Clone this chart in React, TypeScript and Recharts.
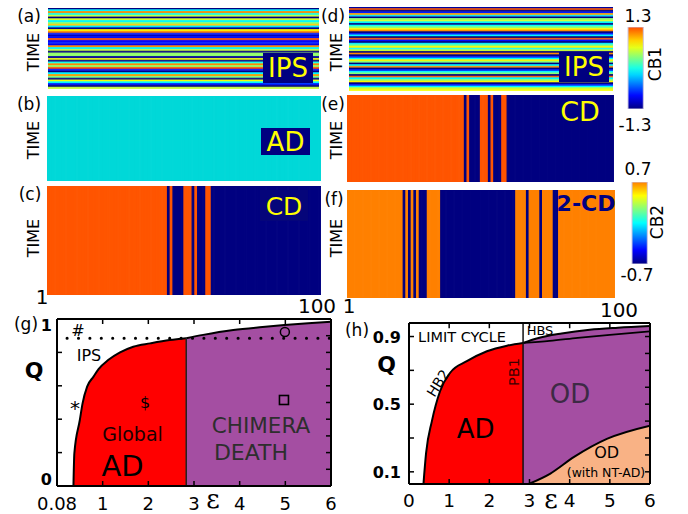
import React from 'react';
import {
  BarChart, Bar, Cell, XAxis, YAxis, ComposedChart, Area, Line,
  ReferenceLine, ReferenceDot,
} from 'recharts';

const FONT = '"DejaVu Sans", sans-serif';
const SERIF = '"DejaVu Serif", serif';

// ---------- space-time data ----------
// (a) IPS rows, values of CB1 (range -1.3..1.3), top to bottom
const ipsRowsA = [
  -1.3, -0.1, 1.1, -0.05, 0.55, -1.3, 0.6, -0.1, 0.35, 0.9, -0.15, -1.25, 0.75, 1.15, -0.8,
  -1.1, -0.85, 1.25, -0.9, -0.8, -0.95, 1.1, -0.1, 0.55, -1.3, 0.4, 0.38, -1.2, 0.7, -1.3,
  0, 1.1, 0.4, 1.3, -0.85, -1.3, -0.1, 1.05, 0.3, -1.3, 0.7, -0.1, -0.8, -1.3, 0.55,
];
// (d) IPS rows
const ipsRowsD = [
  -1.2, 1.25, -1.3, -0.8, 1.0, -0.2, -1.3, 0.35, 0.6, -0.1, -1.3, -0.05, 0.35, 0.75, 1.1,
  -1.3, -0.8, -0.1, -1.3, 1.25, -0.85, -1.3, -0.1, 0.35, 0.75, -0.05, 0.55, -1.3, 1.1, -1.3,
  -0.8, -0.1, 0.75, 0.35, -1.3, -0.1, 1.1, -1.3, -0.8, -0.1, 0.35, -1.3, 1.25, -0.1, 0.35,
  0.75, -1.3, -0.8, -0.1, 0.55, 0.7,
];
// node states along 1..100 (run length: [count, state]); 0 = low, 1 = high, 2 = AD
const adRunsB = [[100, 2]];
const cdRunsC = [[44, 1], [1, 0], [1, 1], [4, 0], [3, 1], [1, 0], [1, 1], [3, 0], [2, 1], [40, 0]];
const cdRunsE = [[44, 1], [1, 0], [1, 1], [4, 0], [3, 1], [1, 0], [1, 1], [3, 0], [2, 1], [40, 0]];
const cdRunsF = [[21, 1], [1, 0], [1, 1], [1, 0], [1, 1], [1, 0], [1, 1], [3, 0], [5, 1], [28, 0],
  [4, 1], [1, 0], [4, 1], [1, 0], [4, 1], [2, 0], [21, 1]];

const cb1Range = [-1.3, 1.3];
const cb2Range = [-0.7, 0.7];
const cb1Labels = ['1.3', '-1.3'];
const cb2Labels = ['0.7', '-0.7'];

// ---------- phase diagram data ----------
const epsTicks = [0, 1, 2, 3, 4, 5, 6];
const epsInnerTicks = [1, 2, 3, 4, 5];
const qTicksG = [0, 0.1, 0.2, 0.3, 0.4, 0.5, 0.6, 0.7, 0.8, 0.9, 1];
const qTicksH = [0.1, 0.2, 0.3, 0.4, 0.5, 0.6, 0.7, 0.8, 0.9];
const gDomainQ = [0, 1];
const hDomainQ = [0.028, 0.98];

const gAD = [
  { e: 0.36, q: 0 }, { e: 0.38, q: 0.196 }, { e: 0.5, q: 0.395 }, { e: 0.56, q: 0.495 },
  { e: 0.66, q: 0.595 }, { e: 0.8, q: 0.655 }, { e: 0.91, q: 0.7 }, { e: 1.12, q: 0.754 },
  { e: 1.38, q: 0.8 }, { e: 1.67, q: 0.834 }, { e: 2.04, q: 0.854 }, { e: 2.47, q: 0.874 },
  { e: 2.83, q: 0.885 },
];
const gCD = [
  { e: 2.83, q: 0.885 }, { e: 3.2, q: 0.905 }, { e: 3.86, q: 0.934 }, { e: 4.5, q: 0.952 },
  { e: 4.98, q: 0.964 }, { e: 5.5, q: 0.975 }, { e: 6, q: 0.984 },
];
const gIPSline = 0.885;
const gPB = 2.83;

const hAD = [
  { e: 0.36, q: 0.028 }, { e: 0.425, q: 0.21 }, { e: 0.57, q: 0.4 }, { e: 0.775, q: 0.578 },
  { e: 1.025, q: 0.686 }, { e: 1.44, q: 0.754 }, { e: 1.94, q: 0.813 }, { e: 2.44, q: 0.846 },
  { e: 2.84, q: 0.862 },
];
const hODtop = [
  { e: 2.84, q: 0.862 }, { e: 3.2, q: 0.89 }, { e: 3.8, q: 0.918 }, { e: 4.5, q: 0.94 },
  { e: 5.2, q: 0.952 }, { e: 6, q: 0.962 },
];
const hODlow = [
  { e: 2.84, q: 0.862 }, { e: 3.5, q: 0.874 }, { e: 4.2, q: 0.892 }, { e: 5, q: 0.91 }, { e: 6, q: 0.93 },
];
const hNT = [
  { e: 2.98, q: 0.028 }, { e: 3.52, q: 0.09 }, { e: 4.11, q: 0.188 }, { e: 4.94, q: 0.296 }, { e: 6, q: 0.373 },
];
const hPB = 2.84;

// ---------- colours ----------
function jet(t: number) {
  const c = (x: number) => Math.round(255 * Math.max(0, Math.min(1, x)));
  return `rgb(${c(1.5 - Math.abs(4 * t - 3))},${c(1.5 - Math.abs(4 * t - 2))},${c(1.5 - Math.abs(4 * t - 1))})`;
}
const cb1Color = (v: number) => jet(((v - cb1Range[0]) / (cb1Range[1] - cb1Range[0])) * 0.8);
const cb2Color = (v: number) => jet(((v - cb2Range[0]) / (cb2Range[1] - cb2Range[0])) * 0.75);
const stateColors1: Record<number, string> = { 0: '#000080', 1: '#ff5500', 2: '#00d8d8' };
const stateColors2: Record<number, string> = { 0: '#000080', 1: '#ff8000', 2: '#00d8d8' };
const RED = '#ff0000';
const PURPLE = '#a44ea2';
const PEACH = '#f9b285';

function expandRuns(runs: number[][]) {
  const out: number[] = [];
  runs.forEach(([n, s]) => { for (let k = 0; k < n; k++) out.push(s); });
  return out;
}

const M0 = { top: 0, right: 0, bottom: 0, left: 0 };

function RowMap({ values, width, height, color }: any) {
  const data = values.map((v: number, i: number) => ({ row: i, v, span: 1 }));
  return (
    <BarChart layout="vertical" width={width} height={height} data={data} margin={M0} barCategoryGap={0} barGap={0}>
      <XAxis type="number" domain={[0, 1]} hide />
      <YAxis type="category" dataKey="row" hide />
      <Bar dataKey="span" barSize={height / values.length} isAnimationActive={false}>
        {data.map((d: any, i: number) => {
          const c = color(d.v);
          return <Cell key={i} fill={c} stroke={c} strokeWidth={0.8} />;
        })}
      </Bar>
    </BarChart>
  );
}

function ColMap({ runs, width, height, colors }: any) {
  const states = expandRuns(runs);
  const data = states.map((s, i) => ({ node: i + 1, s, span: 1 }));
  return (
    <BarChart width={width} height={height} data={data} margin={M0} barCategoryGap={0} barGap={0}>
      <XAxis type="category" dataKey="node" hide />
      <YAxis type="number" domain={[0, 1]} hide />
      <Bar dataKey="span" barSize={width / states.length} isAnimationActive={false}>
        {data.map((d, i) => {
          const c = colors[d.s];
          return <Cell key={i} fill={c} stroke={c} strokeWidth={1.3} />;
        })}
      </Bar>
    </BarChart>
  );
}

function ColorBar({ id, width, height, range, color }: any) {
  const n = 12;
  const stops = Array.from({ length: n + 1 }, (_, k) => {
    const v = range[1] - ((range[1] - range[0]) * k) / n;
    return { off: `${(100 * k) / n}%`, c: color(v) };
  });
  return (
    <BarChart width={width} height={height} data={[{ k: 'cb', span: 1 }]} margin={M0} barCategoryGap={0}>
      <defs>
        <linearGradient id={id} x1="0" y1="0" x2="0" y2="1">
          {stops.map((s, i) => <stop key={i} offset={s.off} stopColor={s.c} />)}
        </linearGradient>
      </defs>
      <XAxis type="category" dataKey="k" hide />
      <YAxis type="number" domain={[0, 1]} hide />
      <Bar dataKey="span" barSize={width} fill={`url(#${id})`} stroke="#cbc4e0" strokeWidth={1} isAnimationActive={false} />
    </BarChart>
  );
}

function Abs({ x, y, children }: any) {
  return <div style={{ position: 'absolute', left: x, top: y }}>{children}</div>;
}

function T({ x, y, size = 16, color = '#000', weight = 400, rot = 0, family = FONT, children }: any) {
  return (
    <div style={{
      position: 'absolute', left: x, top: y, transform: `translate(-50%,-50%) rotate(${rot}deg)`,
      fontSize: size, color, fontWeight: weight, fontFamily: family, whiteSpace: 'nowrap', lineHeight: 1,
    }}>{children}</div>
  );
}

function NavyBox({ x, y, w, h, bg = '#000080' }: any) {
  return <div style={{ position: 'absolute', left: x, top: y, width: w, height: h, background: bg }} />;
}

const AXL = { stroke: '#000', strokeWidth: 2 };
const TICK = 5;

// bottom axis tick: inward line + label below
const bottomTick = (fmt: (v: number) => string, off: number, size: number) => (p: any) => (
  <g>
    <line x1={p.x} y1={p.y} x2={p.x} y2={p.y - TICK} stroke="#000" strokeWidth={1.5} />
    <text x={p.x} y={p.y + off} textAnchor="middle" fontSize={size} fontFamily={FONT} fill="#000">{fmt(p.payload.value)}</text>
  </g>
);

function frameAndTicks(xDom: number[], yDom: number[], xTicks: number[], yTicks: number[], tx: number, ty: number) {
  // top / right border + inward ticks, in data units
  const [x0, x1] = xDom;
  const [y0, y1] = yDom;
  const els: any[] = [];
  els.push(<ReferenceLine key="top" xAxisId="x" yAxisId="y" segment={[{ x: x0, y: y1 }, { x: x1, y: y1 }]} stroke="#000" strokeWidth={2} ifOverflow="visible" />);
  els.push(<ReferenceLine key="right" xAxisId="x" yAxisId="y" segment={[{ x: x1, y: y0 }, { x: x1, y: y1 }]} stroke="#000" strokeWidth={2} ifOverflow="visible" />);
  els.push(<ReferenceLine key="bottom" xAxisId="x" yAxisId="y" segment={[{ x: x0, y: y0 }, { x: x1, y: y0 }]} stroke="#000" strokeWidth={2} ifOverflow="visible" />);
  xTicks.forEach((v) => els.push(
    <ReferenceLine key={`tx${v}`} xAxisId="x" yAxisId="y" segment={[{ x: v, y: y1 }, { x: v, y: y1 - ty }]} stroke="#000" strokeWidth={1.5} />,
  ));
  yTicks.forEach((v) => els.push(
    <ReferenceLine key={`ty${v}`} xAxisId="x" yAxisId="y" segment={[{ x: x1, y: v }, { x: x1 - tx, y: v }]} stroke="#000" strokeWidth={1.5} />,
  ));
  return els;
}

function PhaseG() {
  const yTick = (p: any) => {
    const v = Math.round(p.payload.value * 10) / 10;
    const lab = v === 0 ? '0' : v === 0.5 ? '0.5' : v === 1 ? '1' : '';
    const dy = v === 0 ? -1 : v === 1 ? 12 : 7.5;
    return (
      <g>
        <line x1={p.x} y1={p.y} x2={p.x + TICK} y2={p.y} stroke="#000" strokeWidth={1.5} />
        {lab ? <text x={p.x - 5} y={p.y + dy} textAnchor="end" fontSize={16} fontWeight={700} fontFamily={FONT} fill="#000">{lab}</text> : null}
      </g>
    );
  };
  return (
    <ComposedChart width={345} height={204} margin={{ top: 9, right: 14, bottom: 0, left: 0 }}>
      <XAxis xAxisId="x" type="number" dataKey="e" domain={[0, 6]} ticks={epsTicks} height={28}
        tickSize={0} tickMargin={0} axisLine={AXL} tickLine={false}
        tick={bottomTick((v) => (v === 0 ? '0.08' : String(v)), 24, 18)} allowDataOverflow />
      <YAxis yAxisId="y" type="number" domain={gDomainQ} ticks={qTicksG} width={57}
        tickSize={0} tickMargin={0} axisLine={AXL} tickLine={false} tick={yTick} allowDataOverflow />
      <Area xAxisId="x" yAxisId="y" data={gAD} dataKey="q" type="monotone" fill={RED} fillOpacity={1}
        stroke="#000" strokeWidth={2} isAnimationActive={false} />
      <Area xAxisId="x" yAxisId="y" data={gCD} dataKey="q" type="monotone" fill={PURPLE} fillOpacity={1}
        stroke="#000" strokeWidth={2} isAnimationActive={false} />
      <ReferenceLine xAxisId="x" yAxisId="y" segment={[{ x: gPB, y: 0 }, { x: gPB, y: gIPSline }]} stroke="#222" strokeWidth={1.5} />
      <ReferenceLine xAxisId="x" yAxisId="y" segment={[{ x: 0.22, y: gIPSline }, { x: 6, y: gIPSline }]}
        stroke="#000" strokeWidth={3} strokeDasharray="0.1 11.3" strokeLinecap="round" />
      {frameAndTicks([0, 6], gDomainQ, epsInnerTicks, qTicksG.slice(1, -1), 0.11, 0.03)}
      <ReferenceDot xAxisId="x" yAxisId="y" x={4.99} y={0.922} r={4.5} fill="none" stroke="#000" strokeWidth={1.5} />
      <ReferenceDot xAxisId="x" yAxisId="y" x={4.97} y={0.515} r={4.5}
        shape={(p: any) => <rect x={p.cx - 4.5} y={p.cy - 4.5} width={9} height={9} fill="none" stroke="#000" strokeWidth={1.6} />} />
    </ComposedChart>
  );
}

function PhaseH() {
  const yTick = (p: any) => {
    const v = Math.round(p.payload.value * 10) / 10;
    const lab = v === 0.1 ? '0.1' : v === 0.5 ? '0.5' : v === 0.9 ? '0.9' : '';
    return (
      <g>
        <line x1={p.x} y1={p.y} x2={p.x + TICK} y2={p.y} stroke="#000" strokeWidth={1.5} />
        {lab ? <text x={p.x - 8} y={p.y + 6} textAnchor="end" fontSize={16} fontWeight={700} fontFamily={FONT} fill="#000">{lab}</text> : null}
      </g>
    );
  };
  return (
    <ComposedChart width={343} height={204} margin={{ top: 13, right: 38, bottom: 0, left: 0 }}>
      <XAxis xAxisId="x" type="number" dataKey="e" domain={[0, 6]} ticks={epsTicks} height={30}
        tickSize={0} tickMargin={0} axisLine={AXL} tickLine={false}
        tick={bottomTick((v) => String(v), 23, 18.5)} allowDataOverflow />
      <YAxis yAxisId="y" type="number" domain={hDomainQ} ticks={qTicksH} width={64}
        tickSize={0} tickMargin={0} axisLine={AXL} tickLine={false} tick={yTick} allowDataOverflow />
      <Area xAxisId="x" yAxisId="y" data={hAD} dataKey="q" type="monotone" fill={RED} fillOpacity={1}
        stroke="#000" strokeWidth={2} isAnimationActive={false} />
      <Area xAxisId="x" yAxisId="y" data={hODtop} dataKey="q" type="monotone" fill={PURPLE} fillOpacity={1}
        stroke="#000" strokeWidth={2} isAnimationActive={false} />
      <Line xAxisId="x" yAxisId="y" data={hODlow} dataKey="q" type="monotone" stroke="#000" strokeWidth={1.8}
        dot={false} isAnimationActive={false} />
      <Area xAxisId="x" yAxisId="y" data={hNT} dataKey="q" type="monotone" fill={PEACH} fillOpacity={1}
        stroke="#000" strokeWidth={2} isAnimationActive={false} />
      <ReferenceLine xAxisId="x" yAxisId="y" x={hPB} stroke="#111" strokeWidth={1.5} />
      {frameAndTicks([0, 6], hDomainQ, epsInnerTicks, qTicksH, 0.125, 0.031)}
    </ComposedChart>
  );
}

export default function App() {
  return (
    <div style={{
      position: 'absolute', left: 0, top: 0, width: 688, height: 514, background: '#fff',
      overflow: 'hidden', fontFamily: FONT,
    }}>
      {/* space-time plots */}
      <Abs x={48} y={8}><RowMap values={ipsRowsA} width={271} height={81} color={cb1Color} /></Abs>
      <Abs x={47} y={96}><ColMap runs={adRunsB} width={274} height={85} colors={stateColors1} /></Abs>
      <Abs x={47} y={186}><ColMap runs={cdRunsC} width={274} height={109} colors={stateColors1} /></Abs>
      <Abs x={349} y={7}><RowMap values={ipsRowsD} width={264} height={84} color={cb1Color} /></Abs>
      <Abs x={347} y={95}><ColMap runs={cdRunsE} width={267} height={87} colors={stateColors1} /></Abs>
      <Abs x={347} y={190}><ColMap runs={cdRunsF} width={268} height={108} colors={stateColors2} /></Abs>
      <Abs x={627} y={27}><ColorBar id="cb1g" width={17} height={82} range={cb1Range} color={cb1Color} /></Abs>
      <Abs x={631} y={182}><ColorBar id="cb2g" width={17} height={82} range={cb2Range} color={cb2Color} /></Abs>

      {/* in-panel labels */}
      <NavyBox x={263} y={53} w={50} h={30} />
      <T x={288} y={68} size={26} color="#ffff00">IPS</T>
      <NavyBox x={559} y={52} w={50} h={30} />
      <T x={584} y={67} size={26} color="#ffff00">IPS</T>
      <NavyBox x={261} y={128} w={49} h={27} />
      <T x={285.5} y={141.5} size={26} color="#ffff00">AD</T>
      <NavyBox x={260} y={190} w={48} h={31} bg="#05057a" />
      <T x={284} y={206} size={25} color="#ffff00">CD</T>
      <T x={580} y={111} size={27} color="#ffff00">CD</T>
      <T x={586} y={204} size={22} weight={700} color="#000080">2-CD</T>

      {/* panel letters and axis texts */}
      <T x={29} y={15.5} size={17}>(a)</T>
      <T x={29} y={104} size={17}>(b)</T>
      <T x={30} y={194} size={17}>(c)</T>
      <T x={333} y={15.5} size={17}>(d)</T>
      <T x={333} y={104} size={17}>(e)</T>
      <T x={334} y={199} size={17}>(f)</T>
      <T x={34} y={52} size={16} rot={-90}>TIME</T>
      <T x={34} y={140} size={16} rot={-90}>TIME</T>
      <T x={34} y={238} size={16} rot={-90}>TIME</T>
      <T x={337} y={52} size={16} rot={-90}>TIME</T>
      <T x={337} y={140} size={16} rot={-90}>TIME</T>
      <T x={337} y={238} size={16} rot={-90}>TIME</T>
      <T x={42} y={297} size={20}>1</T>
      <T x={317} y={306} size={20}>100</T>
      <T x={349} y={306} size={20}>1</T>
      <T x={619} y={310} size={20}>100</T>

      {/* colorbar texts */}
      <T x={638} y={16} size={17}>{cb1Labels[0]}</T>
      <T x={635} y={125} size={17}>{cb1Labels[1]}</T>
      <T x={655} y={64} size={17} rot={-90}>CB1</T>
      <T x={638} y={169} size={17}>{cb2Labels[0]}</T>
      <T x={637} y={275} size={17}>{cb2Labels[1]}</T>
      <T x={657} y={222} size={17} rot={-90}>CB2</T>

      {/* phase diagrams */}
      <Abs x={0} y={310}><PhaseG /></Abs>
      <Abs x={345} y={310}><PhaseH /></Abs>

      {/* (g) texts */}
      <T x={26} y={324} size={17}>(g)</T>
      <T x={34} y={371} size={22} weight={700}>Q</T>
      <T x={213} y={499} size={26} family={SERIF}>ε</T>
      <T x={78} y={331} size={16}>#</T>
      <T x={89} y={356} size={16}>IPS</T>
      <T x={75} y={408} size={20}>*</T>
      <T x={145} y={403} size={16}>$</T>
      <T x={132.5} y={434} size={19} color="#1a0000">Global</T>
      <T x={122.5} y={466} size={29}>AD</T>
      <T x={261} y={426} size={21.5} color="#2e2e2e">CHIMERA</T>
      <T x={251} y={453} size={22} color="#2e2e2e">DEATH</T>

      {/* (h) texts */}
      <T x={357} y={330} size={17}>(h)</T>
      <T x={386.5} y={365} size={22} weight={700}>Q</T>
      <T x={551} y={499} size={26} family={SERIF}>ε</T>
      <T x={462} y={336.5} size={14.5}>LIMIT CYCLE</T>
      <T x={540} y={330} size={13}>HBS</T>
      <T x={437.5} y={383} size={14} rot={-58}>HB2</T>
      <T x={514} y={372} size={14.5} rot={-90} color="#3a0000">PB1</T>
      <T x={475.7} y={429} size={26}>AD</T>
      <T x={570} y={394} size={26} color="#3d2a45">OD</T>
      <T x={606.7} y={452.5} size={16}>OD</T>
      <T x={606} y={473} size={12.5}>(with NT-AD)</T>
    </div>
  );
}
